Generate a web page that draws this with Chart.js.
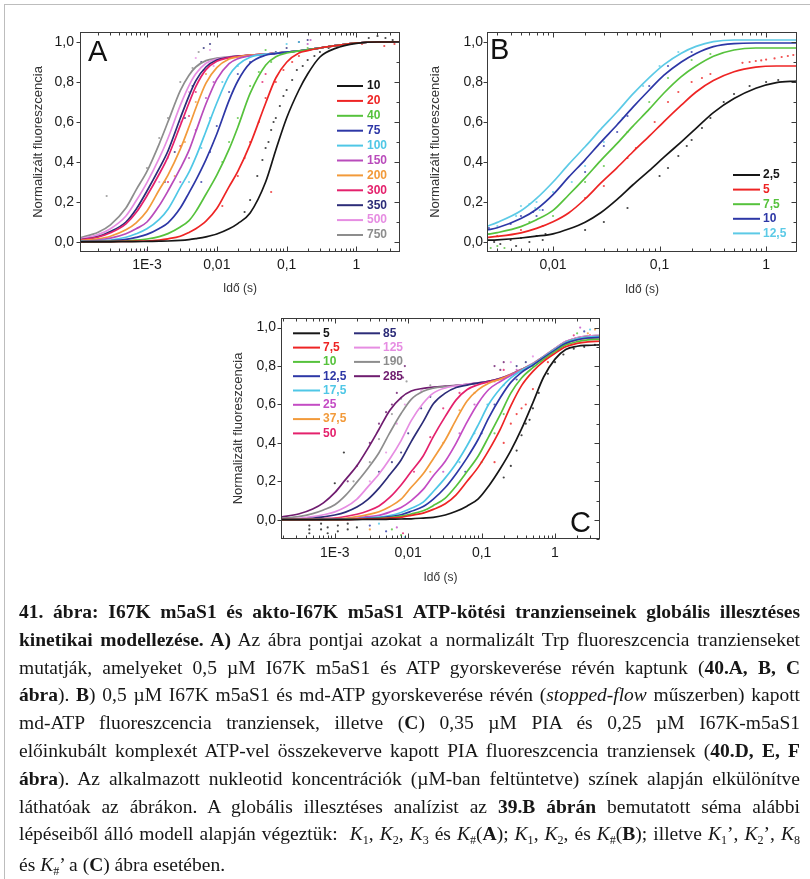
<!DOCTYPE html>
<html>
<head>
<meta charset="utf-8">
<script src="https://cdn.jsdelivr.net/npm/chart.js@4.4.1/dist/chart.umd.min.js"></script>
<style>
  html, body { margin: 0; padding: 0; background: #fff; }
  body { width: 810px; height: 879px; position: relative; overflow: hidden; }
  .rule-top { position: absolute; left: 5px; top: 4px; width: 805px; border-top: 1.5px solid #bdbdbd; }
  .rule-left { position: absolute; left: 4px; top: 4px; height: 875px; border-left: 1.5px solid #bdbdbd; }
  canvas { position: absolute; }
  #caption {
    position: absolute; left: 19px; top: 598px; width: 781px;
    font-family: "Liberation Serif", "Times New Roman", serif;
    font-size: 19.5px; line-height: 27.8px; color: #161616;
  }
  #caption div { text-align: justify; text-align-last: justify; white-space: nowrap; }
  #caption div.last { text-align-last: left; }
  #caption sub { font-size: 0.62em; vertical-align: baseline; position: relative; top: 0.28em; }
</style>
</head>
<body>
<div class="rule-top"></div>
<div class="rule-left"></div>
<canvas id="chartA" width="410" height="310" style="left:0;top:0"></canvas>
<canvas id="chartB" width="400" height="310" style="left:410px;top:0"></canvas>
<canvas id="chartC" width="420" height="300" style="left:200px;top:300px"></canvas>

<div id="caption">
<div><b>41. ábra: I67K m5aS1 és akto-I67K m5aS1 ATP-kötési tranzienseinek globális illesztéses</b></div>
<div><b>kinetikai modellezése. A)</b> Az ábra pontjai azokat a normalizált Trp fluoreszcencia tranzienseket</div>
<div>mutatják, amelyeket 0,5 µM I67K m5aS1 és ATP gyorskeverése révén kaptunk (<b>40.A, B, C</b></div>
<div><b>ábra</b>). <b>B</b>) 0,5 µM I67K m5aS1 és md-ATP gyorskeverése révén (<i>stopped-flow</i> műszerben) kapott</div>
<div>md-ATP fluoreszcencia tranziensek, illetve (<b>C</b>) 0,35 µM PIA és 0,25 µM I67K-m5aS1</div>
<div>előinkubált komplexét ATP-vel összekeverve kapott PIA fluoreszcencia tranziensek (<b>40.D, E, F</b></div>
<div><b>ábra</b>). Az alkalmazott nukleotid koncentrációk (µM-ban feltüntetve) színek alapján elkülönítve</div>
<div>láthatóak az ábrákon. A globális illesztéses analízist az <b>39.B ábrán</b> bemutatott séma alábbi</div>
<div>lépéseiből álló modell alapján végeztük: &nbsp;<i>K</i><sub>1</sub>, <i>K</i><sub>2</sub>, <i>K</i><sub>3</sub> és <i>K</i><sub>#</sub>(<b>A</b>); <i>K</i><sub>1</sub>, <i>K</i><sub>2</sub>, és <i>K</i><sub>#</sub>(<b>B</b>); illetve <i>K</i><sub>1</sub>’, <i>K</i><sub>2</sub>’, <i>K</i><sub>8</sub></div>
<div class="last">és <i>K</i><sub>#</sub>’ a (<b>C</b>) ábra esetében.</div>
</div>

<script>
// ---------- data ----------
// shared y ticks (normalised fluorescence)
const yTicks = [0, 0.2, 0.4, 0.6, 0.8, 1.0];

// panel A: Trp fluorescence, ATP concentrations (µM)
const xTicksA = [0.001, 0.01, 0.1, 1];
const xLabelsA = ['1E-3', '0,01', '0,1', '1'];
const concA = ['10', '20', '40', '75', '100', '150', '200', '300', '350', '500', '750'];
const timeA = [1.1e-4, 2e-4, 3e-4, 5e-4, 7e-4, 1e-3, 1.5e-3, 2e-3, 3e-3, 4e-3, 5e-3, 7e-3, 0.01, 0.015, 0.02, 0.03, 0.05, 0.07, 0.1, 0.15, 0.2, 0.3, 0.5, 1, 2, 4.2];
const a10  = [0.001,0.001,0.001,0.002,0.002,0.003,0.004,0.005,0.008,0.012,0.017,0.026,0.040,0.066,0.092,0.145,0.300,0.460,0.620,0.760,0.840,0.925,0.968,0.993,1.000,1.000];
const a20  = [0.001,0.002,0.002,0.003,0.004,0.005,0.010,0.016,0.029,0.048,0.066,0.104,0.167,0.277,0.353,0.488,0.694,0.820,0.899,0.945,0.957,0.970,0.982,0.995,1.000,1.000];
const a40  = [0.002,0.002,0.003,0.005,0.009,0.015,0.027,0.042,0.075,0.107,0.152,0.239,0.334,0.464,0.574,0.743,0.884,0.926,0.945,0.956,0.961,0.970,0.982,0.995,1.000,1.000];
const a75  = [0.002,0.004,0.006,0.013,0.023,0.038,0.068,0.096,0.170,0.246,0.308,0.412,0.540,0.708,0.805,0.894,0.934,0.942,0.949,0.956,0.961,0.970,0.982,0.995,1.000,1.000];
const a100 = [0.003,0.006,0.010,0.024,0.041,0.066,0.113,0.164,0.273,0.349,0.424,0.554,0.695,0.832,0.886,0.924,0.939,0.944,0.949,0.956,0.961,0.970,0.982,0.995,1.000,1.000];
const a150 = [0.004,0.010,0.019,0.041,0.066,0.100,0.182,0.255,0.368,0.458,0.551,0.691,0.813,0.892,0.917,0.931,0.940,0.944,0.949,0.956,0.961,0.970,0.982,0.995,1.000,1.000];
const a200 = [0.006,0.016,0.029,0.061,0.096,0.155,0.261,0.334,0.464,0.576,0.669,0.794,0.872,0.915,0.925,0.934,0.940,0.944,0.949,0.956,0.961,0.970,0.982,0.995,1.000,1.000];
const a300 = [0.010,0.025,0.046,0.091,0.147,0.231,0.340,0.426,0.582,0.695,0.777,0.862,0.904,0.922,0.928,0.934,0.940,0.944,0.949,0.956,0.961,0.970,0.982,0.995,1.000,1.000];
const a350 = [0.011,0.027,0.052,0.100,0.164,0.255,0.368,0.455,0.619,0.731,0.806,0.875,0.910,0.923,0.929,0.934,0.940,0.944,0.949,0.956,0.961,0.970,0.982,0.995,1.000,1.000];
const a500 = [0.015,0.037,0.066,0.130,0.206,0.297,0.419,0.519,0.683,0.782,0.841,0.894,0.915,0.925,0.929,0.934,0.940,0.944,0.949,0.956,0.961,0.970,0.982,0.995,1.000,1.000];
const a750 = [0.021,0.049,0.086,0.170,0.261,0.353,0.491,0.601,0.757,0.834,0.875,0.907,0.919,0.926,0.929,0.934,0.940,0.944,0.949,0.956,0.961,0.970,0.982,0.995,1.000,1.000];

// measured points of panel A, [time s, value] per concentration
const ptsA = {
  '10':  [[0.025,0.15],[0.03,0.21],[0.038,0.33],[0.045,0.41],[0.05,0.47],[0.055,0.50],[0.06,0.56],[0.065,0.60],[0.07,0.62],[0.08,0.68],[0.09,0.73],[0.1,0.76],[0.12,0.81],[0.14,0.86],[0.17,0.88],[0.2,0.91],[0.25,0.93],[0.3,0.95],[0.4,0.97],[1.5,1.02],[2.0,1.03],[2.6,1.02],[3.3,1.01]],
  '20':  [[0.012,0.18],[0.02,0.33],[0.025,0.42],[0.03,0.50],[0.04,0.60],[0.05,0.72],[0.06,0.25],[0.07,0.80],[0.09,0.86],[0.12,0.90],[0.15,0.93],[1.2,0.99],[2.5,0.98],[3.5,0.99]],
  '40':  [[0.012,0.40],[0.015,0.50],[0.02,0.62],[0.03,0.78],[0.04,0.85],[0.05,0.96],[0.06,0.90],[0.1,0.95],[0.2,0.97]],
  '75':  [[0.006,0.30],[0.008,0.45],[0.01,0.58],[0.015,0.75],[0.02,0.84],[0.03,0.90]],
  '100': [[0.004,0.30],[0.006,0.47],[0.008,0.62],[0.012,0.80],[0.02,0.88],[0.1,0.99],[0.15,1.00]],
  '150': [[0.003,0.30],[0.004,0.42],[0.005,0.56],[0.007,0.72],[0.009,0.80],[0.18,0.96],[0.2,0.99],[0.22,1.01]],
  '200': [[0.0025,0.33],[0.0035,0.50],[0.005,0.70],[0.007,0.84]],
  '300': [[0.002,0.30],[0.003,0.48],[0.004,0.63],[0.005,0.75],[0.0065,0.86],[0.045,0.80],[0.05,0.84]],
  '350': [[0.0018,0.30],[0.0025,0.45],[0.0035,0.62],[0.0045,0.78],[0.006,0.90],[0.0065,0.97],[0.008,0.99],[0.07,0.95],[0.1,0.97],[0.15,1.00],[0.2,1.01]],
  '500': [[5e-4,-0.045],[7e-4,-0.04],[1e-3,-0.04],[0.0015,0.30],[0.002,0.42],[0.003,0.60],[0.004,0.75],[0.005,0.92],[0.008,0.96],[0.009,0.88]],
  '750': [[2.65e-4,0.23],[1e-3,0.37],[0.0015,0.52],[0.002,0.62],[0.003,0.80],[0.0045,0.87],[0.0055,0.95]]
};

// panel B: md-ATP fluorescence, md-ATP concentrations (µM)
const xTicksB = [0.01, 0.1, 1];
const xLabelsB = ['0,01', '0,1', '1'];
const concB = ['2,5', '5', '7,5', '10', '12,5'];
const timeB = [0.0024, 0.003, 0.005, 0.007, 0.01, 0.014, 0.02, 0.028, 0.04, 0.056, 0.08, 0.11, 0.16, 0.22, 0.32, 0.5, 0.8, 1.25, 1.95];
const b2_5  = [0.009,0.011,0.020,0.029,0.041,0.065,0.099,0.146,0.213,0.285,0.357,0.424,0.501,0.568,0.647,0.717,0.769,0.797,0.805];
const b5    = [0.023,0.028,0.046,0.068,0.101,0.145,0.215,0.294,0.372,0.450,0.529,0.602,0.684,0.750,0.807,0.851,0.874,0.880,0.880];
const b7_5  = [0.038,0.047,0.077,0.111,0.158,0.235,0.321,0.407,0.493,0.578,0.664,0.745,0.827,0.880,0.929,0.960,0.970,0.970,0.970];
const b10   = [0.060,0.071,0.117,0.164,0.237,0.324,0.411,0.498,0.586,0.673,0.760,0.834,0.900,0.943,0.977,0.992,0.995,0.995,0.995];
const b12_5 = [0.079,0.098,0.156,0.218,0.300,0.388,0.476,0.563,0.651,0.739,0.822,0.887,0.944,0.978,1.002,1.010,1.010,1.010,1.010];

// measured points of panel B
const ptsB = {
  '2,5':  [[0.0028,0.0],[0.0032,-0.01],[0.004,0.01],[0.0045,-0.02],[0.005,0.02],[0.006,0.0],[0.007,0.03],[0.008,0.01],[0.0085,0.04],[0.02,0.06],[0.03,0.10],[0.05,0.17],[0.1,0.33],[0.12,0.37],[0.15,0.43],[0.18,0.48],[0.2,0.51],[0.25,0.57],[0.3,0.62],[0.4,0.70],[0.5,0.74],[0.7,0.78],[1.0,0.80],[1.3,0.81]],
  '5':    [[0.003,0.03],[0.005,0.06],[0.008,0.08],[0.02,0.22],[0.03,0.28],[0.05,0.42],[0.06,0.47],[0.09,0.60],[0.12,0.70],[0.15,0.75],[0.2,0.80],[0.25,0.82],[0.3,0.84],
           [0.6,0.896],[0.7,0.900],[0.8,0.905],[0.9,0.908],[1.0,0.912],[1.2,0.918],[1.4,0.925],[1.6,0.930],[1.8,0.935],[1.95,0.938]],
  '7,5':  [[0.0026,-0.03],[0.003,-0.02],[0.0035,-0.03],[0.006,0.10],[0.01,0.13],[0.02,0.30],[0.03,0.38],[0.05,0.55],[0.08,0.70],[0.12,0.82],[0.2,0.91],[0.3,0.94]],
  '10':   [[0.0025,0.07],[0.004,0.09],[0.005,0.13],[0.0065,0.15],[0.007,0.13],[0.008,0.16],[0.02,0.35],[0.03,0.48],[0.04,0.55],[0.05,0.63],[0.08,0.78],[0.12,0.88],[0.2,0.95]],
  '12,5': [[0.0025,0.04],[0.003,0.08],[0.0045,0.13],[0.005,0.18],[0.006,0.19],[0.0068,0.17],[0.007,0.20],[0.0075,0.16],[0.01,0.25],[0.015,0.30],[0.02,0.38],[0.03,0.50],[0.045,0.62],[0.07,0.78],[0.1,0.88],[0.15,0.95]]
};

// panel C: PIA fluorescence, ATP concentrations (µM)
const xTicksC = [0.001, 0.01, 0.1, 1];
const xLabelsC = ['1E-3', '0,01', '0,1', '1'];
const concC = ['5', '7,5', '10', '12,5', '17,5', '25', '37,5', '50', '85', '125', '190', '285'];
const timeC = [1.85e-4, 3.2e-4, 5e-4, 7e-4, 1e-3, 1.4e-3, 2e-3, 2.8e-3, 4e-3, 5.6e-3, 8e-3, 0.011, 0.016, 0.022, 0.032, 0.045, 0.063, 0.09, 0.125, 0.18, 0.25, 0.35, 0.5, 0.7, 1, 1.4, 2, 2.8, 4.1];
const c5    = [0.001,0.001,0.001,0.001,0.001,0.001,0.001,0.002,0.002,0.003,0.004,0.005,0.009,0.013,0.025,0.044,0.071,0.109,0.176,0.267,0.360,0.473,0.610,0.743,0.836,0.886,0.903,0.908,0.910];
const c7_5  = [0.001,0.001,0.001,0.001,0.001,0.001,0.003,0.005,0.005,0.009,0.013,0.023,0.035,0.054,0.083,0.130,0.199,0.274,0.361,0.472,0.593,0.698,0.772,0.824,0.866,0.900,0.918,0.926,0.929];
const c10   = [0.001,0.001,0.001,0.001,0.001,0.002,0.004,0.005,0.007,0.011,0.019,0.030,0.047,0.074,0.113,0.176,0.250,0.332,0.433,0.548,0.659,0.738,0.792,0.835,0.875,0.909,0.927,0.936,0.939];
const c12_5 = [0.001,0.001,0.001,0.001,0.002,0.002,0.004,0.007,0.010,0.016,0.026,0.044,0.069,0.108,0.168,0.240,0.321,0.419,0.530,0.636,0.715,0.767,0.805,0.844,0.883,0.918,0.937,0.946,0.949];
const c17_5 = [0.001,0.001,0.001,0.002,0.002,0.003,0.005,0.009,0.014,0.022,0.038,0.060,0.092,0.147,0.218,0.293,0.384,0.494,0.601,0.683,0.738,0.777,0.809,0.847,0.887,0.923,0.942,0.951,0.954];
const c25   = [0.001,0.001,0.002,0.002,0.003,0.005,0.008,0.016,0.023,0.040,0.064,0.100,0.158,0.229,0.305,0.399,0.507,0.608,0.678,0.720,0.751,0.778,0.808,0.844,0.883,0.918,0.937,0.946,0.949];
const c37_5 = [0.001,0.002,0.003,0.003,0.005,0.008,0.016,0.027,0.042,0.068,0.107,0.169,0.239,0.318,0.415,0.521,0.617,0.677,0.711,0.732,0.755,0.781,0.810,0.847,0.887,0.923,0.942,0.951,0.954];
const c50   = [0.002,0.002,0.003,0.006,0.009,0.017,0.029,0.046,0.072,0.116,0.181,0.251,0.332,0.433,0.538,0.624,0.677,0.703,0.718,0.734,0.754,0.779,0.808,0.844,0.883,0.918,0.937,0.946,0.949];
const c85   = [0.003,0.004,0.008,0.015,0.025,0.040,0.066,0.105,0.165,0.234,0.311,0.407,0.511,0.604,0.659,0.688,0.701,0.712,0.721,0.735,0.755,0.781,0.810,0.847,0.887,0.923,0.942,0.951,0.954];
const c125  = [0.003,0.007,0.016,0.026,0.041,0.066,0.108,0.170,0.238,0.316,0.412,0.516,0.606,0.659,0.686,0.697,0.705,0.712,0.721,0.736,0.757,0.783,0.813,0.850,0.891,0.927,0.947,0.956,0.959];
const c190  = [0.007,0.016,0.032,0.051,0.078,0.127,0.196,0.266,0.349,0.452,0.553,0.627,0.669,0.685,0.693,0.698,0.704,0.712,0.721,0.735,0.755,0.781,0.810,0.847,0.887,0.923,0.942,0.951,0.954];
const c285  = [0.014,0.030,0.056,0.088,0.141,0.209,0.281,0.369,0.471,0.569,0.636,0.670,0.684,0.690,0.695,0.699,0.705,0.712,0.721,0.736,0.757,0.783,0.813,0.850,0.891,0.927,0.947,0.956,0.959];

// measured points of panel C
const ptsC = {
  '5':    [[4.5e-4,-0.03],[4.5e-4,-0.05],[4.5e-4,-0.07],[6.5e-4,-0.02],[6.5e-4,-0.05],[8e-4,-0.04],[8e-4,-0.07],[1.1e-3,-0.03],[1.1e-3,-0.06],[1.5e-3,-0.02],[1.5e-3,-0.05],[2e-3,-0.04],[1e-3,0.19],[1.33e-3,0.35],
           [0.2,0.22],[0.25,0.28],[0.3,0.36],[0.35,0.44],[0.4,0.50],[0.45,0.52],[0.5,0.58],[0.6,0.66],[0.8,0.76],[1.0,0.82],[1.3,0.86],[1.8,0.89],[2.5,0.90],[3.5,0.91]],
  '7,5':  [[0.15,0.30],[0.2,0.40],[0.25,0.50],[0.3,0.55],[0.35,0.58],[0.4,0.60],[0.5,0.68],[0.8,0.82],[1.5,0.92],[3.0,0.96]],
  '10':   [[0.006,-0.05],[0.008,-0.08],[0.1,0.30],[0.15,0.45],[0.2,0.55],[0.5,0.80],[2.0,0.97]],
  '12,5': [[0.003,-0.03],[0.005,-0.06],[0.06,0.25],[0.1,0.45],[0.15,0.60],[0.3,0.73],[2.5,0.98]],
  '17,5': [[0.004,-0.02],[0.009,-0.09],[0.05,0.30],[0.08,0.45],[0.12,0.60],[0.2,0.70],[3.0,0.99]],
  '25':   [[0.007,-0.04],[0.03,0.25],[0.05,0.45],[0.08,0.60],[0.15,0.72],[0.3,0.78],[2.2,1.00]],
  '37,5': [[0.003,-0.05],[0.02,0.25],[0.03,0.40],[0.05,0.57],[0.08,0.66],[2.8,0.97],[3.5,0.99]],
  '50':   [[0.0085,-0.07],[0.012,0.25],[0.02,0.43],[0.03,0.58],[0.05,0.66],[0.2,0.78],[1.8,0.96]],
  '85':   [[0.004,0.25],[0.006,0.30],[0.008,0.35],[0.01,0.45],[0.015,0.58],[0.02,0.64],[0.3,0.80],[0.4,0.82]],
  '125':  [[0.003,0.20],[0.005,0.35],[0.007,0.50],[0.009,0.60],[0.015,0.67],[0.25,0.82],[0.5,0.85]],
  '190':  [[0.0018,0.20],[0.003,0.30],[0.004,0.42],[0.006,0.55],[0.008,0.63],[0.0095,0.72],[0.02,0.70]],
  '285':  [[0.0015,0.20],[0.002,0.28],[0.003,0.40],[0.004,0.50],[0.005,0.56],[0.006,0.60],[0.007,0.66],[0.0085,0.74],[0.009,0.80],[0.15,0.80],[0.18,0.78],[0.2,0.82]]
};

// ---------- styling ----------
const palette = {
  black: '#161616', red: '#ee2424', green: '#56c23c', blue: '#2d37a6', cyan: '#4fc7e6',
  magenta: '#b94bbb', orange: '#f29a3a', crimson: '#e4216c', navy: '#2c2c78',
  pink: '#e68de2', grey: '#8d8d8d', purple: '#6f1c6f'
};
const colorsA = [palette.black, palette.red, palette.green, palette.blue, palette.cyan, palette.magenta,
                 palette.orange, palette.crimson, palette.navy, palette.pink, palette.grey];
const colorsB = [palette.black, palette.red, palette.green, palette.blue, '#5ccae6'];
const colorsC = [palette.black, palette.red, palette.green, palette.blue, palette.cyan, '#c44cc4',
                 palette.orange, palette.crimson, palette.navy, palette.pink, palette.grey, palette.purple];

const FONT = "'Liberation Sans', Arial, Helvetica, sans-serif";
Chart.defaults.font.family = FONT;
Chart.defaults.color = '#1a1a1a';

function curve(label, times, values, color) {
  return {
    label, borderColor: color, backgroundColor: color, borderWidth: 1.7,
    pointRadius: 0, fill: false, cubicInterpolationMode: 'monotone', order: 0,
    data: times.map((t, i) => ({ x: t, y: values[i] }))
  };
}
function dots(label, pairs, color) {
  return {
    label: label + ' mért', showLine: false, order: 1,
    pointRadius: 1.1, pointBorderWidth: 0, pointBackgroundColor: color + 'cc', borderColor: color,
    data: pairs.map(p => ({ x: p[0], y: p[1] }))
  };
}

// box frame with inward minor ticks (Origin-style axes)
const frameTicks = {
  id: 'frameTicks',
  afterDatasetsDraw(chart) {
    const { ctx, chartArea: a, scales: { x, y } } = chart;
    const L = Math.round(a.left) + 0.5, R = Math.round(a.right) - 0.5;
    const T = Math.round(a.top) + 0.5, B = Math.round(a.bottom) - 0.5;
    ctx.save();
    ctx.strokeStyle = '#3a3a3a';
    ctx.lineWidth = 1;
    ctx.strokeRect(L, T, R - L, B - T);
    ctx.beginPath();
    const d0 = Math.floor(Math.log10(x.min)), d1 = Math.ceil(Math.log10(x.max));
    for (let d = d0; d <= d1; d++) {
      for (let k = 1; k <= 9; k++) {
        const v = k * Math.pow(10, d);
        if (v < x.min || v > x.max) continue;
        const px = Math.round(x.getPixelForValue(v)) + 0.5;
        const len = k === 1 ? 5 : 3;
        ctx.moveTo(px, B); ctx.lineTo(px, B - len);
        ctx.moveTo(px, T); ctx.lineTo(px, T + len);
      }
    }
    for (let i = Math.ceil(y.min * 10 - 1e-6); i <= Math.floor(y.max * 10 + 1e-6); i++) {
      const py = Math.round(y.getPixelForValue(i / 10)) + 0.5;
      const major = i % 2 === 0;
      ctx.moveTo(R, py); ctx.lineTo(R - (major ? 5 : 3), py);
      if (major) { ctx.moveTo(L, py); ctx.lineTo(L - 4, py); }
    }
    ctx.stroke();
    ctx.restore();
  }
};

// in-plot key (line sample + bold coloured label) and panel letter
const curveKey = {
  id: 'curveKey',
  afterDatasetsDraw(chart, args, o) {
    const ctx = chart.ctx;
    ctx.save();
    ctx.textBaseline = 'middle';
    ctx.textAlign = 'left';
    ctx.font = `bold 12px ${FONT}`;
    (o.columns || []).forEach(col => {
      col.labels.forEach((lab, i) => {
        const ds = chart.data.datasets.find(d => d.label === lab);
        const yy = col.y + i * col.step;
        ctx.strokeStyle = ds.borderColor;
        ctx.lineWidth = 2;
        ctx.beginPath(); ctx.moveTo(col.x0, yy); ctx.lineTo(col.x1, yy); ctx.stroke();
        ctx.fillStyle = ds.borderColor;
        ctx.fillText(lab, col.tx, yy);
      });
    });
    if (o.letter) {
      ctx.font = `29px ${FONT}`;
      ctx.fillStyle = '#111';
      ctx.textBaseline = 'alphabetic';
      ctx.fillText(o.letter.text, o.letter.x, o.letter.y);
    }
    ctx.restore();
  }
};

function panelOptions(p) {
  return {
    responsive: false, animation: false, devicePixelRatio: 1,
    layout: { padding: { top: p.padTop, right: p.padRight, left: 0, bottom: 0 } },
    plugins: { legend: { display: false }, tooltip: { enabled: false }, curveKey: p.key },
    scales: {
      x: {
        type: 'logarithmic', min: p.xMin, max: p.xMax,
        afterBuildTicks: s => { s.ticks = p.xTicks.map(v => ({ value: v })); },
        afterFit: s => { s.height = p.xAxisH; },
        grid: { display: false, drawTicks: false }, border: { display: false },
        ticks: { autoSkip: false, maxRotation: 0, padding: p.xPad, font: { size: 14 }, color: '#1a1a1a',
                 callback: (v, i) => p.xLabels[i] },
        title: { display: true, text: 'Idő (s)', font: { size: 12 }, color: '#333',
                 padding: { top: 0, bottom: p.xTitlePad } }
      },
      y: {
        type: 'linear', min: p.yMin, max: p.yMax,
        afterBuildTicks: s => { s.ticks = yTicks.map(v => ({ value: v })); },
        afterFit: s => { s.width = p.yAxisW; },
        grid: { display: false, drawTicks: false }, border: { display: false },
        ticks: { padding: p.yPad, font: { size: 14 }, color: '#1a1a1a',
                 callback: v => v.toFixed(1).replace('.', ',') },
        title: { display: true, text: 'Normalizált fluoreszcencia', font: { size: 13 }, color: '#333',
                 padding: { top: p.yTitlePad, bottom: 0 } }
      }
    }
  };
}

function buildDatasets(conc, times, series, colors, pts) {
  const lines = conc.map((c, i) => curve(c, times, series[i], colors[i]));
  const marks = conc.map((c, i) => dots(c, pts[c] || [], colors[i]));
  return lines.concat(marks);
}

// ---------- panel A ----------
const seriesA = [a10, a20, a40, a75, a100, a150, a200, a300, a350, a500, a750];
new Chart(document.getElementById('chartA'), {
  type: 'line',
  data: { datasets: buildDatasets(concA, timeA, seriesA, colorsA, ptsA) },
  options: panelOptions({
    padTop: 32, padRight: 10, xAxisH: 58, yAxisW: 80,
    xMin: 1.1e-4, xMax: 4.2, yMin: -0.05, yMax: 1.05,
    xTicks: xTicksA, xLabels: xLabelsA, xPad: 5, xTitlePad: 14, yPad: 6, yTitlePad: 31,
    key: { columns: [{ labels: concA, x0: 337, x1: 363, tx: 367, y: 86, step: 14.9 }],
           letter: { text: 'A', x: 88, y: 61 } }
  }),
  plugins: [frameTicks, curveKey]
});

// ---------- panel B ----------
const seriesB = [b2_5, b5, b7_5, b10, b12_5];
new Chart(document.getElementById('chartB'), {
  type: 'line',
  data: { datasets: buildDatasets(concB, timeB, seriesB, colorsB, ptsB) },
  options: panelOptions({
    padTop: 32, padRight: 13, xAxisH: 58, yAxisW: 77,
    xMin: 0.0024, xMax: 1.95, yMin: -0.05, yMax: 1.05,
    xTicks: xTicksB, xLabels: xLabelsB, xPad: 5, xTitlePad: 13, yPad: 4, yTitlePad: 18,
    key: { columns: [{ labels: concB, x0: 323, x1: 350, tx: 353, y: 175, step: 14.6 }],
           letter: { text: 'B', x: 80, y: 59 } }
  }),
  plugins: [frameTicks, curveKey]
});

// ---------- panel C ----------
const seriesC = [c5, c7_5, c10, c12_5, c17_5, c25, c37_5, c50, c85, c125, c190, c285];
new Chart(document.getElementById('chartC'), {
  type: 'line',
  data: { datasets: buildDatasets(concC, timeC, seriesC, colorsC, ptsC) },
  options: panelOptions({
    padTop: 18, padRight: 20, xAxisH: 61, yAxisW: 81,
    xMin: 1.85e-4, xMax: 4.1, yMin: -0.1, yMax: 1.05,
    xTicks: xTicksC, xLabels: xLabelsC, xPad: 6, xTitlePad: 15, yPad: 5, yTitlePad: 31,
    key: { columns: [{ labels: concC.slice(0, 8), x0: 93, x1: 120, tx: 123, y: 33.3, step: 14.3 },
                     { labels: concC.slice(8), x0: 154, x1: 180, tx: 183, y: 33.3, step: 14.3 }],
           letter: { text: 'C', x: 370, y: 232 } }
  }),
  plugins: [frameTicks, curveKey]
});
</script>
</body>
</html>
